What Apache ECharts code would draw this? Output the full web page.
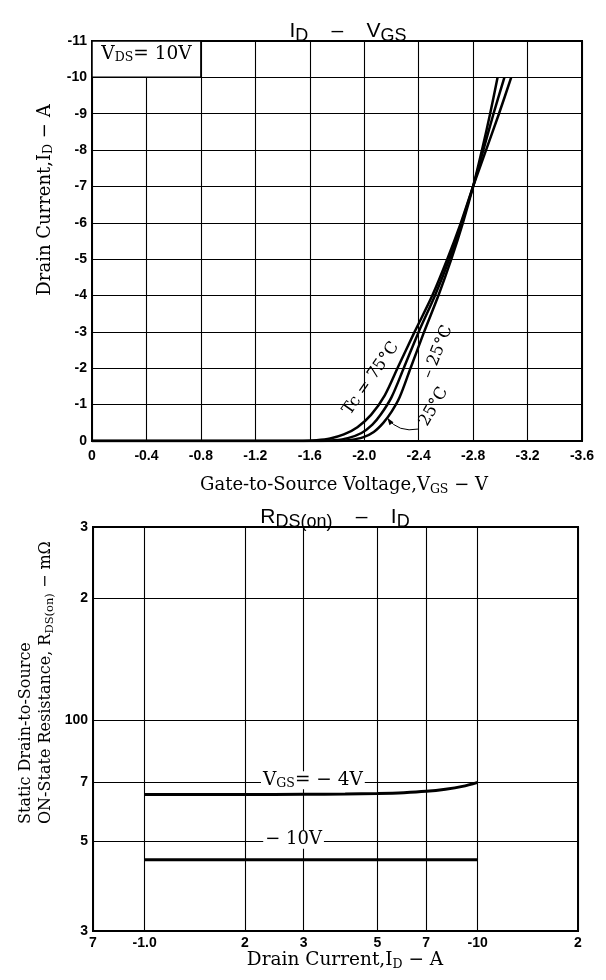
<!DOCTYPE html>
<html>
<head>
<meta charset="utf-8">
<script src="https://cdn.jsdelivr.net/npm/echarts@6/dist/echarts.min.js"></script>
<style>
html,body{margin:0;padding:0;background:#fff;}
#chart{width:606px;height:980px;}
</style>
</head>
<body>
<div id="chart"></div>
<script>
// ---------- I_D – V_GS  (V_GS in V, I_D in A) ----------
const idVgsTc75 = [[0,0],[-1.55,0],[-1.65,-0.02],[-1.75,-0.07],[-1.85,-0.18],[-1.95,-0.38],[-2.05,-0.72],[-2.15,-1.25],[-2.25,-2.05],[-2.37,-3.0],[-2.5,-4.0],[-2.61,-5.0],[-2.71,-6.0],[-2.8,-7.0],[-2.895,-8.0],[-2.99,-9.0],[-3.08,-10.0]];
const idVgsTc25 = [[0,0],[-1.68,0],[-1.78,-0.02],[-1.88,-0.08],[-1.98,-0.22],[-2.06,-0.45],[-2.12,-0.72],[-2.2,-1.2],[-2.29,-2.0],[-2.4,-3.0],[-2.52,-4.0],[-2.625,-5.0],[-2.715,-6.0],[-2.8,-7.0],[-2.875,-8.0],[-2.95,-9.0],[-3.03,-10.0]];
const idVgsTcM25 = [[0,0],[-1.8,0],[-1.9,-0.03],[-1.99,-0.1],[-2.07,-0.25],[-2.14,-0.5],[-2.2,-0.8],[-2.26,-1.2],[-2.34,-2.0],[-2.44,-3.0],[-2.545,-4.0],[-2.64,-5.0],[-2.725,-6.0],[-2.8,-7.0],[-2.865,-8.0],[-2.925,-9.0],[-2.98,-10.0]];

// ---------- R_DS(on) – I_D  (|I_D| in A, R in mOhm) ----------
const rdsVgsM4 = [[1,65.3],[2,65.3],[3,65.4],[4,65.5],[5,65.7],[6,66.0],[7,66.5],[8,67.3],[9,68.4],[10,70]];
const rdsVgsM10 = [[1,45],[2,45],[3,45],[5,45],[7,45],[10,45]];
const idTickValues = [0.7,1,2,3,5,7,10,20];
const idTickLabels = ['7','-1.0','2','3','5','7','-10','2'];
const rdsTickValues = [30,50,70,100,200,300];
const rdsTickLabels = ['3','5','7','100','2','3'];

const SERIF = '"DejaVu Serif","Liberation Serif","Times New Roman",serif';
const SANS = '"Liberation Sans","Noto Sans",Arial,sans-serif';
const NARROW = '"Liberation Sans Narrow","Liberation Sans",Arial,sans-serif';
function subRich(size, drop, fam){ return {s:{fontFamily:fam||SERIF,fontSize:size,padding:[drop,0,0,0],color:'#000'}}; }

const chart = echarts.init(document.getElementById('chart'), null, {renderer:'canvas', width:606, height:980});

const tickLabel = {color:'#000', fontFamily:NARROW, fontWeight:'bold', fontSize:14};
const blackLine = {color:'#000', width:1.1};

const option = {
  animation:false,
  backgroundColor:'#fff',
  title:[
    {text:'I{s|D}    \u2013    V{s|GS}', left:343, top:12, textAlign:'center',
     textStyle:{fontFamily:SANS, fontSize:21, fontWeight:'normal', color:'#000', rich:subRich(18,10,SANS)}},
    {text:'R{s|DS(on)}    \u2013    I{s|D}', left:330, top:498, textAlign:'center',
     textStyle:{fontFamily:SANS, fontSize:21, fontWeight:'normal', color:'#000', rich:subRich(18,10,SANS)}}
  ],
  grid:[
    {left:92, right:24, top:41, bottom:539, show:true, borderColor:'#000', borderWidth:2, backgroundColor:'transparent'},
    {left:93, right:28, top:527, bottom:49, show:true, borderColor:'#000', borderWidth:2, backgroundColor:'transparent'}
  ],
  xAxis:[
    {type:'value', gridIndex:0, min:-3.6, max:0, interval:0.4, inverse:true,
     axisLine:{show:true, lineStyle:{color:'#000', width:2}}, axisTick:{show:false},
     axisLabel:Object.assign({margin:8, formatter:v => Math.abs(v) < 1e-9 ? '0' : (Math.round(v*10)/10).toFixed(1)}, tickLabel),
     splitLine:{show:true, lineStyle:blackLine},
     name:'Gate-to-Source Voltage,V{s|GS} \u2212 V', nameLocation:'middle', nameGap:34,
     nameTextStyle:{fontFamily:SERIF, fontSize:18, color:'#000', padding:[0,0,0,14], rich:subRich(12.5,8)}},
    {type:'log', gridIndex:1, min:0.7, max:20, logBase:10,
     axisLine:{show:true, lineStyle:{color:'#000', width:2}}, axisTick:{show:false},
     axisLabel:{show:false}, splitLine:{show:false},
     name:'Drain Current,I{s|D} \u2212 A', nameLocation:'middle', nameGap:19,
     nameTextStyle:{fontFamily:SERIF, fontSize:18.5, color:'#000', padding:[0,0,0,19], rich:subRich(12.5,8)}}
  ],
  yAxis:[
    {type:'value', gridIndex:0, min:-11, max:0, interval:1, inverse:true,
     axisLine:{show:true, lineStyle:{color:'#000', width:2}}, axisTick:{show:false},
     axisLabel:Object.assign({margin:5, formatter:v => Math.abs(v) < 1e-9 ? '0' : String(Math.round(v))}, tickLabel),
     splitLine:{show:true, lineStyle:blackLine}},
    {type:'log', gridIndex:1, min:30, max:300, logBase:10,
     axisLine:{show:true, lineStyle:{color:'#000', width:2}}, axisTick:{show:false},
     axisLabel:{show:false}, splitLine:{show:false}}
  ],
  series:[
    {name:'Tc=75°C', type:'line', xAxisIndex:0, yAxisIndex:0, data:idVgsTc75, showSymbol:false, smooth:0.3, z:3,
     lineStyle:{color:'#000', width:2.5}, itemStyle:{color:'#000'},
     markArea:{silent:true, itemStyle:{color:'#fff', borderColor:'#000', borderWidth:1.5},
       label:{show:true, position:'insideTop', distance:3, formatter:'V{s|DS}= 10V', fontFamily:SERIF, fontSize:18.5, color:'#000', rich:subRich(12.5,8)},
       data:[[{coord:[0,-11]},{coord:[-0.8,-10]}]]}},
    {name:'Tc=25°C', type:'line', xAxisIndex:0, yAxisIndex:0, data:idVgsTc25, showSymbol:false, smooth:0.3, z:3,
     lineStyle:{color:'#000', width:2.5}, itemStyle:{color:'#000'}},
    {name:'Tc=-25°C', type:'line', xAxisIndex:0, yAxisIndex:0, data:idVgsTcM25, showSymbol:false, smooth:0.3, z:3,
     lineStyle:{color:'#000', width:2.5}, itemStyle:{color:'#000'}},
    {name:'VGS=-10V', type:'line', xAxisIndex:1, yAxisIndex:1, data:rdsVgsM10, showSymbol:false, z:3,
     lineStyle:{color:'#000', width:3}, itemStyle:{color:'#000'},
     markLine:{silent:true, symbol:['none','none'], animation:false,
       lineStyle:{color:'#000', width:1.1, type:'solid'},
       label:Object.assign({show:true, position:'start', distance:5, formatter:'{b}'}, tickLabel),
       data: idTickValues.map((v,i) => [{coord:[v,30], name:idTickLabels[i]},{coord:[v,300]}])
         .concat(rdsTickValues.map((v,i) => [{coord:[0.7,v], name:rdsTickLabels[i]},{coord:[20,v]}]))},
     markPoint:{silent:true, symbol:'rect', symbolSize:0,
       label:{show:true, position:'inside', formatter:'\u2212 10V', fontFamily:SERIF, fontSize:18, lineHeight:18, color:'#000', backgroundColor:'#fff', padding:[0,2,0,2]},
       data:[{coord:[2.8,50.5]}]}},
    {name:'VGS=-4V', type:'line', xAxisIndex:1, yAxisIndex:1, data:rdsVgsM4, showSymbol:false, smooth:0.3, z:4,
     lineStyle:{color:'#000', width:3}, itemStyle:{color:'#000'},
     markPoint:{silent:true, symbol:'rect', symbolSize:0,
       label:{show:true, position:'inside', formatter:'V{s|GS}= \u2212 4V', fontFamily:SERIF, fontSize:18.5, lineHeight:18, color:'#000', backgroundColor:'#fff', padding:[0,2,0,2], rich:subRich(12.5,7)},
       data:[{coord:[3.2,70.8]}]}}
  ]
};
chart.setOption(option);

// ---------- annotations (placed through the axes) ----------
function P(gi, v){ return chart.convertToPixel({gridIndex:gi}, v); }
const g = [];
function rotText(pt, deg, txt){
  const p = P(0, pt);
  g.push({type:'text', x:p[0], y:p[1], rotation:deg*Math.PI/180, z:20,
    style:{text:txt, fontFamily:SERIF, fontSize:16.5, fill:'#000', align:'center', verticalAlign:'middle'}});
}
rotText([-2.05,-1.72], 55, 'Tc = 75\u00B0C');
rotText([-2.54,-2.45], 68, '\u2013 25\u00B0C');
rotText([-2.51,-0.94], 60, '25\u00B0C');
// leader arc with arrow
const a0 = P(0,[-2.17,-0.63]), ac = P(0,[-2.25,-0.22]), a1 = P(0,[-2.40,-0.33]);
g.push({type:'bezierCurve', z:20, shape:{x1:a0[0], y1:a0[1], cpx1:ac[0], cpy1:ac[1], x2:a1[0], y2:a1[1]}, style:{stroke:'#000', lineWidth:1, fill:null}});
(function(){
  const dx = a0[0]-ac[0], dy = a0[1]-ac[1], L = Math.hypot(dx,dy), ux = dx/L, uy = dy/L;
  const bx = a0[0]-ux*7, by = a0[1]-uy*7;
  g.push({type:'polygon', z:20, shape:{points:[[a0[0],a0[1]],[bx-uy*2.5,by+ux*2.5],[bx+uy*2.5,by-ux*2.5]]}, style:{fill:'#000'}});
})();
// y-axis names
g.push({type:'text', x:45, y:200, rotation:Math.PI/2, z:20,
  style:{text:'Drain Current,I{s|D} \u2212 A', fontFamily:SERIF, fontSize:18, fill:'#000', align:'center', verticalAlign:'middle', rich:subRich(12.5,8)}});
g.push({type:'text', x:26, y:824, rotation:Math.PI/2, z:20,
  style:{text:'Static Drain-to-Source', fontFamily:SERIF, fontSize:16, fill:'#000', align:'left', verticalAlign:'middle'}});
g.push({type:'text', x:46, y:824, rotation:Math.PI/2, z:20,
  style:{text:'ON-State Resistance, R{s|DS(on)} \u2212 m\u03A9', fontFamily:SERIF, fontSize:16, fill:'#000', align:'left', verticalAlign:'middle', rich:subRich(11.5,8)}});
chart.setOption({graphic:g});
</script>
</body>
</html>
